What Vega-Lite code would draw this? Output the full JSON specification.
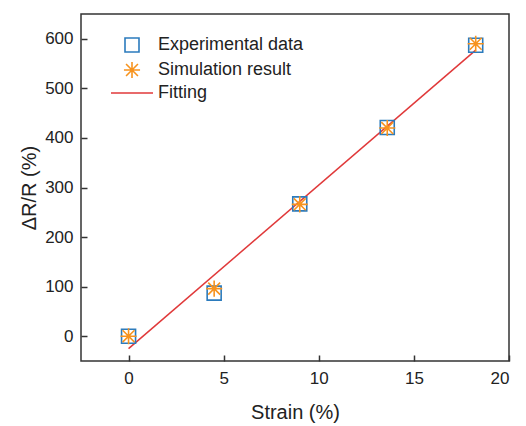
{
  "$schema": "https://vega.github.io/schema/vega-lite/v6.json",
  "width": 428,
  "height": 347,
  "autosize": {"type": "none"},
  "padding": {"left": 81, "top": 14, "right": 17, "bottom": 65},
  "background": "white",
  "config": {
    "font": "Liberation Sans",
    "view": {"stroke": "#333333", "strokeWidth": 1.5},
    "axis": {
      "grid": false,
      "domain": false,
      "tickColor": "#333333",
      "tickWidth": 1.5,
      "tickSize": -6,
      "labelFont": "Liberation Sans",
      "labelFontSize": 17,
      "labelColor": "#222222",
      "titleFont": "Liberation Sans",
      "titleFontSize": 20,
      "titleFontWeight": "normal",
      "titleColor": "#222222"
    }
  },
  "datasets": {
    "points": [
      {"strain": 0, "value": 0, "series": "Experimental data"},
      {"strain": 4.5, "value": 87, "series": "Experimental data"},
      {"strain": 9.0, "value": 267, "series": "Experimental data"},
      {"strain": 13.6, "value": 421, "series": "Experimental data"},
      {"strain": 18.25, "value": 587, "series": "Experimental data"},
      {"strain": 0, "value": 0, "series": "Simulation result"},
      {"strain": 4.5, "value": 96, "series": "Simulation result"},
      {"strain": 9.0, "value": 266, "series": "Simulation result"},
      {"strain": 13.6, "value": 420, "series": "Simulation result"},
      {"strain": 18.25, "value": 590, "series": "Simulation result"}
    ],
    "fit": [
      {"strain": 0, "value": -25, "series": "Fitting"},
      {"strain": 18.25, "value": 577, "series": "Fitting"}
    ]
  },
  "layer": [
    {
      "data": {"name": "fit"},
      "mark": {"type": "line", "strokeWidth": 1.5},
      "encoding": {
        "x": {"field": "strain", "type": "quantitative"},
        "y": {"field": "value", "type": "quantitative"},
        "color": {"field": "series", "type": "nominal"}
      }
    },
    {
      "data": {"name": "points"},
      "mark": {"type": "point", "filled": false, "strokeWidth": 1.6, "size": 196, "opacity": 1},
      "encoding": {
        "x": {
          "field": "strain", "type": "quantitative",
          "scale": {"domain": [-2.5, 20], "nice": false},
          "axis": {"values": [0, 5, 10, 15, 20], "title": "Strain (%)", "labelPadding": 15, "titlePadding": 16}
        },
        "y": {
          "field": "value", "type": "quantitative",
          "scale": {"domain": [-50, 650], "nice": false},
          "axis": {"values": [0, 100, 200, 300, 400, 500, 600], "title": "ΔR/R (%)", "labelPadding": 14, "titlePadding": 5}
        },
        "color": {
          "field": "series", "type": "nominal",
          "scale": {
            "domain": ["Experimental data", "Simulation result", "Fitting"],
            "range": ["#2b7bbd", "#f7931e", "#e0393a"]
          },
          "legend": {
            "title": null,
            "orient": "none",
            "legendX": 42,
            "legendY": 22,
            "labelFont": "Liberation Sans",
            "labelFontSize": 18,
            "labelColor": "#222222",
            "labelOffset": 17,
            "symbolSize": 196,
            "symbolStrokeWidth": 1.6,
            "rowPadding": 2
          }
        },
        "shape": {
          "field": "series", "type": "nominal",
          "scale": {
            "domain": ["Experimental data", "Simulation result", "Fitting"],
            "range": ["square", "M-1.15,0L1.15,0M0,-1.15L0,1.15M-0.85,-0.85L0.85,0.85M-0.85,0.85L0.85,-0.85", "M-3,0L3,0"]
          }
        }
      }
    }
  ]
}
